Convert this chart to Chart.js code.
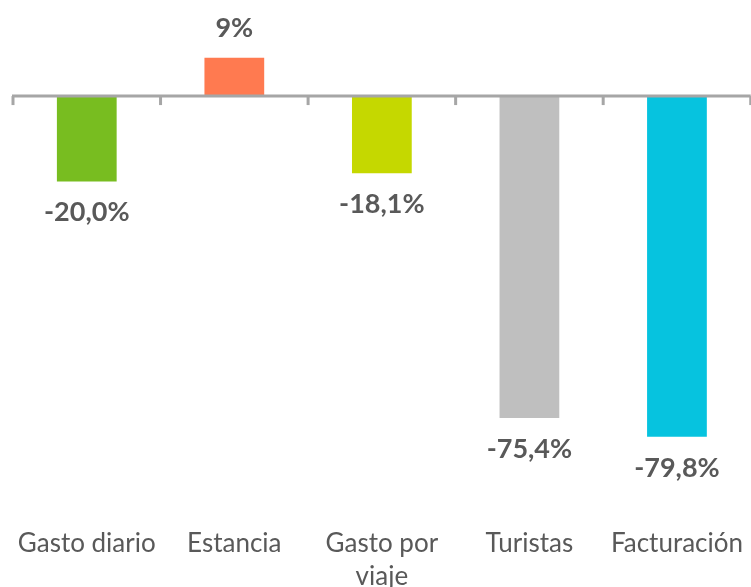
<!DOCTYPE html>
<html lang="es">
<head>
  <meta charset="UTF-8">
  <title>Variación</title>
  <script src="https://cdn.jsdelivr.net/npm/chart.js"></script>
  <style>
    html, body {
      margin: 0;
      padding: 0;
      background: #ffffff;
      overflow: hidden;
    }
    #wrap {
      position: relative;
      width: 753px;
      height: 603px;
    }
  </style>
</head>
<body>
<div id="wrap">
  <canvas id="grafico"></canvas>
</div>

<script>
  // Datos
  const categorias = ['Gasto diario', 'Estancia', ['Gasto por', 'viaje'], 'Turistas', 'Facturación'];
  const variacion = [-20.0, 9, -18.1, -75.4, -79.8];
  const etiquetas = ['-20,0%', '9%', '-18,1%', '-75,4%', '-79,8%'];
  const colores = ['#78bd20', '#ff7a50', '#c5d800', '#bfbfbf', '#06c3df'];

  const FUENTE = 'Lato, "Open Sans", sans-serif';

  // Eje en el cero, marcas entre categorías y etiquetas de valor
  const ejeYEtiquetas = {
    id: 'ejeYEtiquetas',
    afterDatasetsDraw(chart) {
      const ctx = chart.ctx;
      const x = chart.scales.x;
      const y = chart.scales.y;
      const area = chart.chartArea;
      const y0 = y.getPixelForValue(0);
      const paso = x.getPixelForValue(1) - x.getPixelForValue(0);

      ctx.save();
      ctx.strokeStyle = '#a6a6a6';
      ctx.lineWidth = 3;
      ctx.beginPath();
      ctx.moveTo(area.left - 1, y0);
      ctx.lineTo(area.right, y0);
      ctx.stroke();
      for (let i = 0; i <= categorias.length; i++) {
        const xt = x.getPixelForValue(0) - paso / 2 + i * paso;
        ctx.beginPath();
        ctx.moveTo(xt, y0);
        ctx.lineTo(xt, y0 + 9);
        ctx.stroke();
      }

      ctx.fillStyle = '#595959';
      ctx.font = 'bold 27px ' + FUENTE;
      ctx.textAlign = 'center';
      ctx.textBaseline = 'middle';
      const meta = chart.getDatasetMeta(0);
      meta.data.forEach((barra, i) => {
        const v = variacion[i];
        const yl = v >= 0 ? barra.y - 29 : barra.y + 31;
        ctx.fillText(etiquetas[i], barra.x, yl);
      });
      ctx.restore();
    }
  };

  new Chart(document.getElementById('grafico'), {
    type: 'bar',
    data: {
      labels: categorias,
      datasets: [{
        data: variacion,
        backgroundColor: colores,
        borderWidth: 0,
        barPercentage: 0.405,
        categoryPercentage: 1
      }]
    },
    options: {
      responsive: true,
      maintainAspectRatio: false,
      animation: false,
      layout: { padding: { left: 13, right: 0, top: 0, bottom: 0 } },
      plugins: {
        legend: { display: false },
        tooltip: { enabled: false }
      },
      scales: {
        x: {
          grid: { display: false },
          border: { display: false },
          ticks: {
            color: '#595959',
            font: { family: FUENTE, size: 26, lineHeight: 1.27 },
            padding: 10,
            maxRotation: 0,
            autoSkip: false
          }
        },
        y: {
          display: false,
          min: -96.7,
          max: 22.5
        }
      }
    },
    plugins: [ejeYEtiquetas]
  });
</script>
</body>
</html>
